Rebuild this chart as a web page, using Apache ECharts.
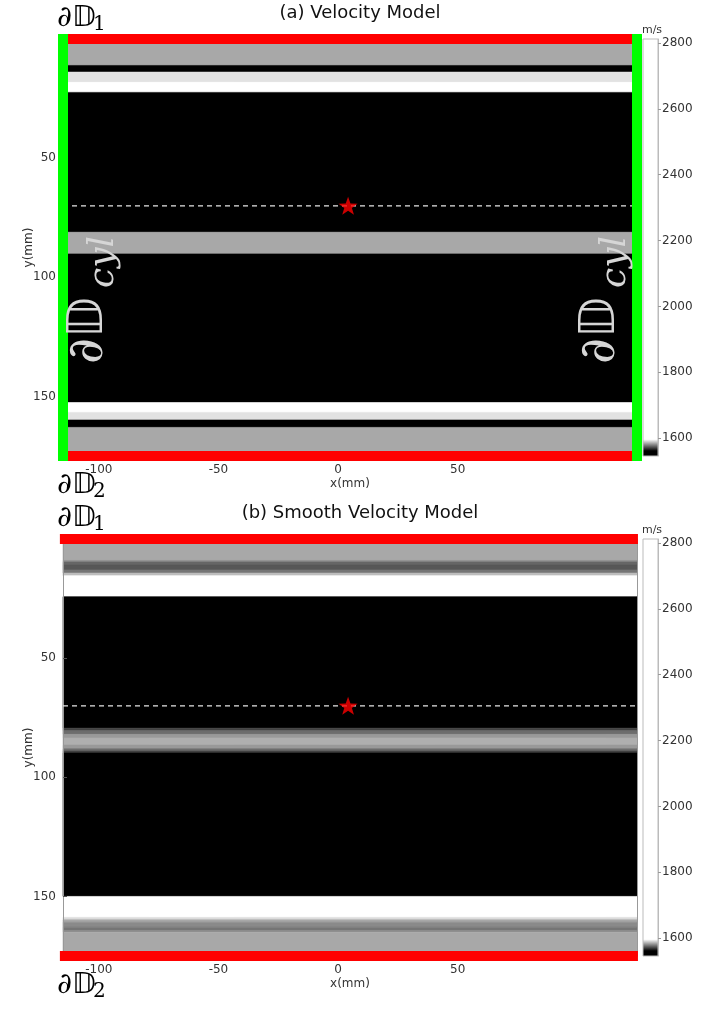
<!DOCTYPE html>
<html>
<head>
<meta charset="utf-8">
<script src="https://cdn.jsdelivr.net/npm/echarts@6/dist/echarts.min.js"></script>
<style>
html, body { margin: 0; padding: 0; background: #fff; }
#main { width: 711px; height: 1012px; }
</style>
</head>
<body>
<div id="main"></div>
<script>
// ticks
var xTicks = [-100, -50, 0, 50];
var yTicks = [50, 100, 150];
var cbTicks = [1600, 1800, 2000, 2200, 2400, 2600, 2800];

// colour map m/s -> grey
var cmapVals = [1546, 1563, 1598, 2812];
var cmapColors = ['#000000', '#000000', '#ffffff', '#ffffff'];

// (a) layered velocity model, depth in mm
var layerTop = [0, 11.1, 13.9, 18.2, 22.4, 81.1, 90.2, 152.6, 156.7, 159.9, 163.0];
var layerBot = [11.1, 13.9, 18.2, 22.4, 81.1, 90.2, 152.6, 156.7, 159.9, 163.0, 175];
var layerVel = [1586, 1550, 1594, 2800, 1550, 1586, 1550, 2800, 1594, 1550, 1586];

// (b) smooth velocity model
var smoothTop = [0, 9.0, 9.7, 10.9, 13.0, 14.3, 15.4, 24.2, 79.4, 80.5, 82.0, 83.5, 86.5, 88.0, 89.0, 89.8, 150.0, 158.8, 159.8, 160.8, 162.9, 164.3, 165.0];
var smoothBot = [9.0, 9.7, 10.9, 13.0, 14.3, 15.4, 24.2, 79.4, 80.5, 82.0, 83.5, 86.5, 88.0, 89.0, 89.8, 150.0, 158.8, 159.8, 160.8, 162.9, 164.3, 165.0, 175];
var smoothVel = [1586, 1582, 1577, 1575, 1579, 1589, 2800, 1550, 1572, 1578, 1584, 1587, 1584, 1578, 1572, 1550, 2800, 1593, 1586, 1582, 1579, 1582, 1586];

// source, receivers line and boundaries
var srcPos = [[4.2, 70]];
var recvLine = [[-115, 70], [125, 70]];
var topEdge = [[-116.3, 0], [125.4, 0]];
var botEdge = [[-116.3, 175], [125.4, 175]];
var leftEdge = [[-115, -2.1], [-115, 177.1]];
var rightEdge = [[125, -2.1], [125, 177.1]];

var xMin = -115, xMax = 125, yMin = 0, yMax = 175;
var cbMin = 1546, cbMax = 2812;
var starPath = 'path://M0,-10 L2.35,-3.24 L9.51,-3.09 L3.8,1.24 L5.88,8.09 L0,4 L-5.88,8.09 L-3.8,1.24 L-9.51,-3.09 L-2.35,-3.24 Z';

function hexToRgb(h) {
	return [parseInt(h.substr(1, 2), 16), parseInt(h.substr(3, 2), 16), parseInt(h.substr(5, 2), 16)];
}
function velColor(v) {
	if (v <= cmapVals[0]) return cmapColors[0];
	for (var i = 1; i < cmapVals.length; i++) {
		if (v <= cmapVals[i]) {
			var t = (v - cmapVals[i - 1]) / (cmapVals[i] - cmapVals[i - 1]);
			var a = hexToRgb(cmapColors[i - 1]), b = hexToRgb(cmapColors[i]);
			var c = a.map(function (x, k) { return Math.round(x + (b[k] - x) * t); });
			return 'rgb(' + c.join(',') + ')';
		}
	}
	return cmapColors[cmapColors.length - 1];
}

function layerItem(params, api) {
	var a = api.coord([xMin, api.value(0)]);
	var b = api.coord([xMax, api.value(1)]);
	var col = velColor(api.value(2));
	return {
		type: 'rect',
		shape: { x: a[0], y: a[1], width: b[0] - a[0], height: b[1] - a[1] },
		style: { fill: col, stroke: col, lineWidth: 0.6 }
	};
}

function colorbarItem(params, api) {
	var a = api.coord([0, api.value(2)]);
	var b = api.coord([1, api.value(1)]);
	var stops = cmapVals.map(function (v, i) {
		return { offset: (v - cbMin) / (cbMax - cbMin), color: cmapColors[i] };
	});
	return {
		type: 'rect',
		shape: { x: a[0], y: a[1], width: b[0] - a[0], height: b[1] - a[1] },
		style: { fill: new echarts.graphic.LinearGradient(0, 1, 0, 0, stops), stroke: '#bbbbbb', lineWidth: 1 }
	};
}

var labelFont = 'DejaVu Sans';
var grids = [], xAxes = [], yAxes = [], series = [], graphics = [];

function addPanel(top, tops, bots, vels, withCyl, title) {
	var g = grids.length;
	grids.push({ left: 63, top: top, width: 574, height: 417 });
	grids.push({ left: 643, top: top, width: 15, height: 417 });
	var xi = xAxes.length, yi = yAxes.length;
	xAxes.push({
		gridIndex: g, type: 'value', min: xMin, max: xMax, z: 3,
		axisLine: { show: true, onZero: false, lineStyle: { color: '#999' } },
		axisTick: { show: true, inside: true, length: 4, customValues: xTicks, lineStyle: { color: '#555' } },
		axisLabel: { customValues: xTicks, fontSize: 12, color: '#333', margin: 8, fontFamily: labelFont },
		splitLine: { show: false },
		name: 'x(mm)', nameLocation: 'middle', nameGap: 22, nameMoveOverlap: false,
		nameTextStyle: { fontSize: 12, color: '#333', fontFamily: labelFont }
	});
	xAxes.push({ gridIndex: g + 1, type: 'value', min: 0, max: 1, show: false });
	yAxes.push({
		gridIndex: g, type: 'value', inverse: true, min: yMin, max: yMax, z: 3,
		axisLine: { show: true, onZero: false, lineStyle: { color: '#999' } },
		axisTick: { show: true, inside: true, length: 4, customValues: yTicks, lineStyle: { color: '#555' } },
		axisLabel: { customValues: yTicks, fontSize: 12, color: '#333', margin: 7, fontFamily: labelFont },
		splitLine: { show: false },
		name: 'y(mm)', nameLocation: 'middle', nameGap: 28, nameMoveOverlap: false,
		nameTextStyle: { fontSize: 12, color: '#333', fontFamily: labelFont }
	});
	yAxes.push({
		gridIndex: g + 1, type: 'value', position: 'right', min: cbMin, max: cbMax, z: 3,
		axisLine: { show: true, onZero: false, lineStyle: { color: '#bbb' } },
		axisTick: { show: true, length: 3, customValues: cbTicks, lineStyle: { color: '#999' } },
		axisLabel: {
			customValues: cbTicks, fontSize: 12, color: '#333', margin: 4, fontFamily: labelFont,
			formatter: function (v) { return String(v); }
		},
		splitLine: { show: false }
	});
	yAxes.push({
		gridIndex: g, type: 'value', position: 'right', inverse: true, min: yMin, max: yMax, z: 3,
		axisLine: { show: true, onZero: false, lineStyle: { color: '#999' } },
		axisTick: { show: false }, axisLabel: { show: false }, splitLine: { show: false }
	});

	series.push({
		type: 'custom', xAxisIndex: xi, yAxisIndex: yi, silent: true,
		renderItem: layerItem,
		data: tops.map(function (t, i) { return [t, bots[i], vels[i]]; })
	});
	series.push({
		type: 'custom', xAxisIndex: xi + 1, yAxisIndex: yi + 1, silent: true,
		renderItem: colorbarItem, data: [[0, cbMin, cbMax]]
	});
	series.push({
		type: 'line', xAxisIndex: xi, yAxisIndex: yi, data: recvLine, symbol: 'none', silent: true, z: 4,
		lineStyle: { color: '#e6e6e6', width: 1.3, type: [5, 4] }
	});
	[topEdge, botEdge].forEach(function (d) {
		series.push({
			type: 'line', xAxisIndex: xi, yAxisIndex: yi, data: d, symbol: 'none', silent: true, clip: false, z: 5,
			lineStyle: { color: '#ff0000', width: 10 }
		});
	});
	if (withCyl) {
		[leftEdge, rightEdge].forEach(function (d) {
			series.push({
				type: 'line', xAxisIndex: xi, yAxisIndex: yi, data: d, symbol: 'none', silent: true, clip: false, z: 6,
				lineStyle: { color: '#00ff00', width: 10 }
			});
		});
	}
	series.push({
		type: 'scatter', xAxisIndex: xi, yAxisIndex: yi, data: srcPos, symbol: starPath, symbolKeepAspect: true,
		symbolSize: 19, silent: true, z: 7, itemStyle: { color: '#ff0000' }
	});

	// titles and boundary labels
	graphics.push({
		type: 'text', x: 360, y: top - 26,
		style: { text: title, font: '18px "DejaVu Sans"', fill: '#111', align: 'center', verticalAlign: 'middle' }
	});
	graphics.push({
		type: 'text', x: 652, y: top - 9,
		style: { text: 'm/s', font: '11px "DejaVu Sans"', fill: '#333', align: 'center', verticalAlign: 'middle' }
	});
	var dLabels = [[top - 21, '1'], [top + 446, '2']];
	dLabels.forEach(function (d) {
		graphics.push({
			type: 'text', x: 57, y: d[0],
			style: { text: '∂𝔻', font: 'italic 29px "DejaVu Serif", "DejaVu Sans"', fill: '#000', align: 'left', verticalAlign: 'middle' }
		});
		graphics.push({
			type: 'text', x: 93, y: d[0] + 7,
			style: { text: d[1], font: '20px "DejaVu Serif"', fill: '#000', align: 'left', verticalAlign: 'middle' }
		});
	});
	if (withCyl) {
		[[114, 364], [626, 364]].forEach(function (p) {
			graphics.push({
				type: 'text', x: p[0], y: p[1], rotation: Math.PI / 2, z: 100,
				style: { text: '∂𝔻', font: 'italic 50px "DejaVu Serif", "DejaVu Sans"', fill: '#d6d6d6', align: 'left', verticalAlign: 'bottom' }
			});
			graphics.push({
				type: 'text', x: p[0] + 8, y: p[1] - 76, rotation: Math.PI / 2, z: 100,
				style: { text: 'cyl', font: 'italic 36px "DejaVu Serif"', fill: '#d6d6d6', align: 'left', verticalAlign: 'bottom' }
			});
		});
	}
}

addPanel(39, layerTop, layerBot, layerVel, true, '(a) Velocity Model');
addPanel(539, smoothTop, smoothBot, smoothVel, false, '(b) Smooth Velocity Model');

var chart = echarts.init(document.getElementById('main'), null, { renderer: 'canvas' });
chart.setOption({
	animation: false,
	backgroundColor: '#ffffff',
	grid: grids,
	xAxis: xAxes,
	yAxis: yAxes,
	series: series,
	graphic: { elements: graphics }
});
</script>
</body>
</html>
